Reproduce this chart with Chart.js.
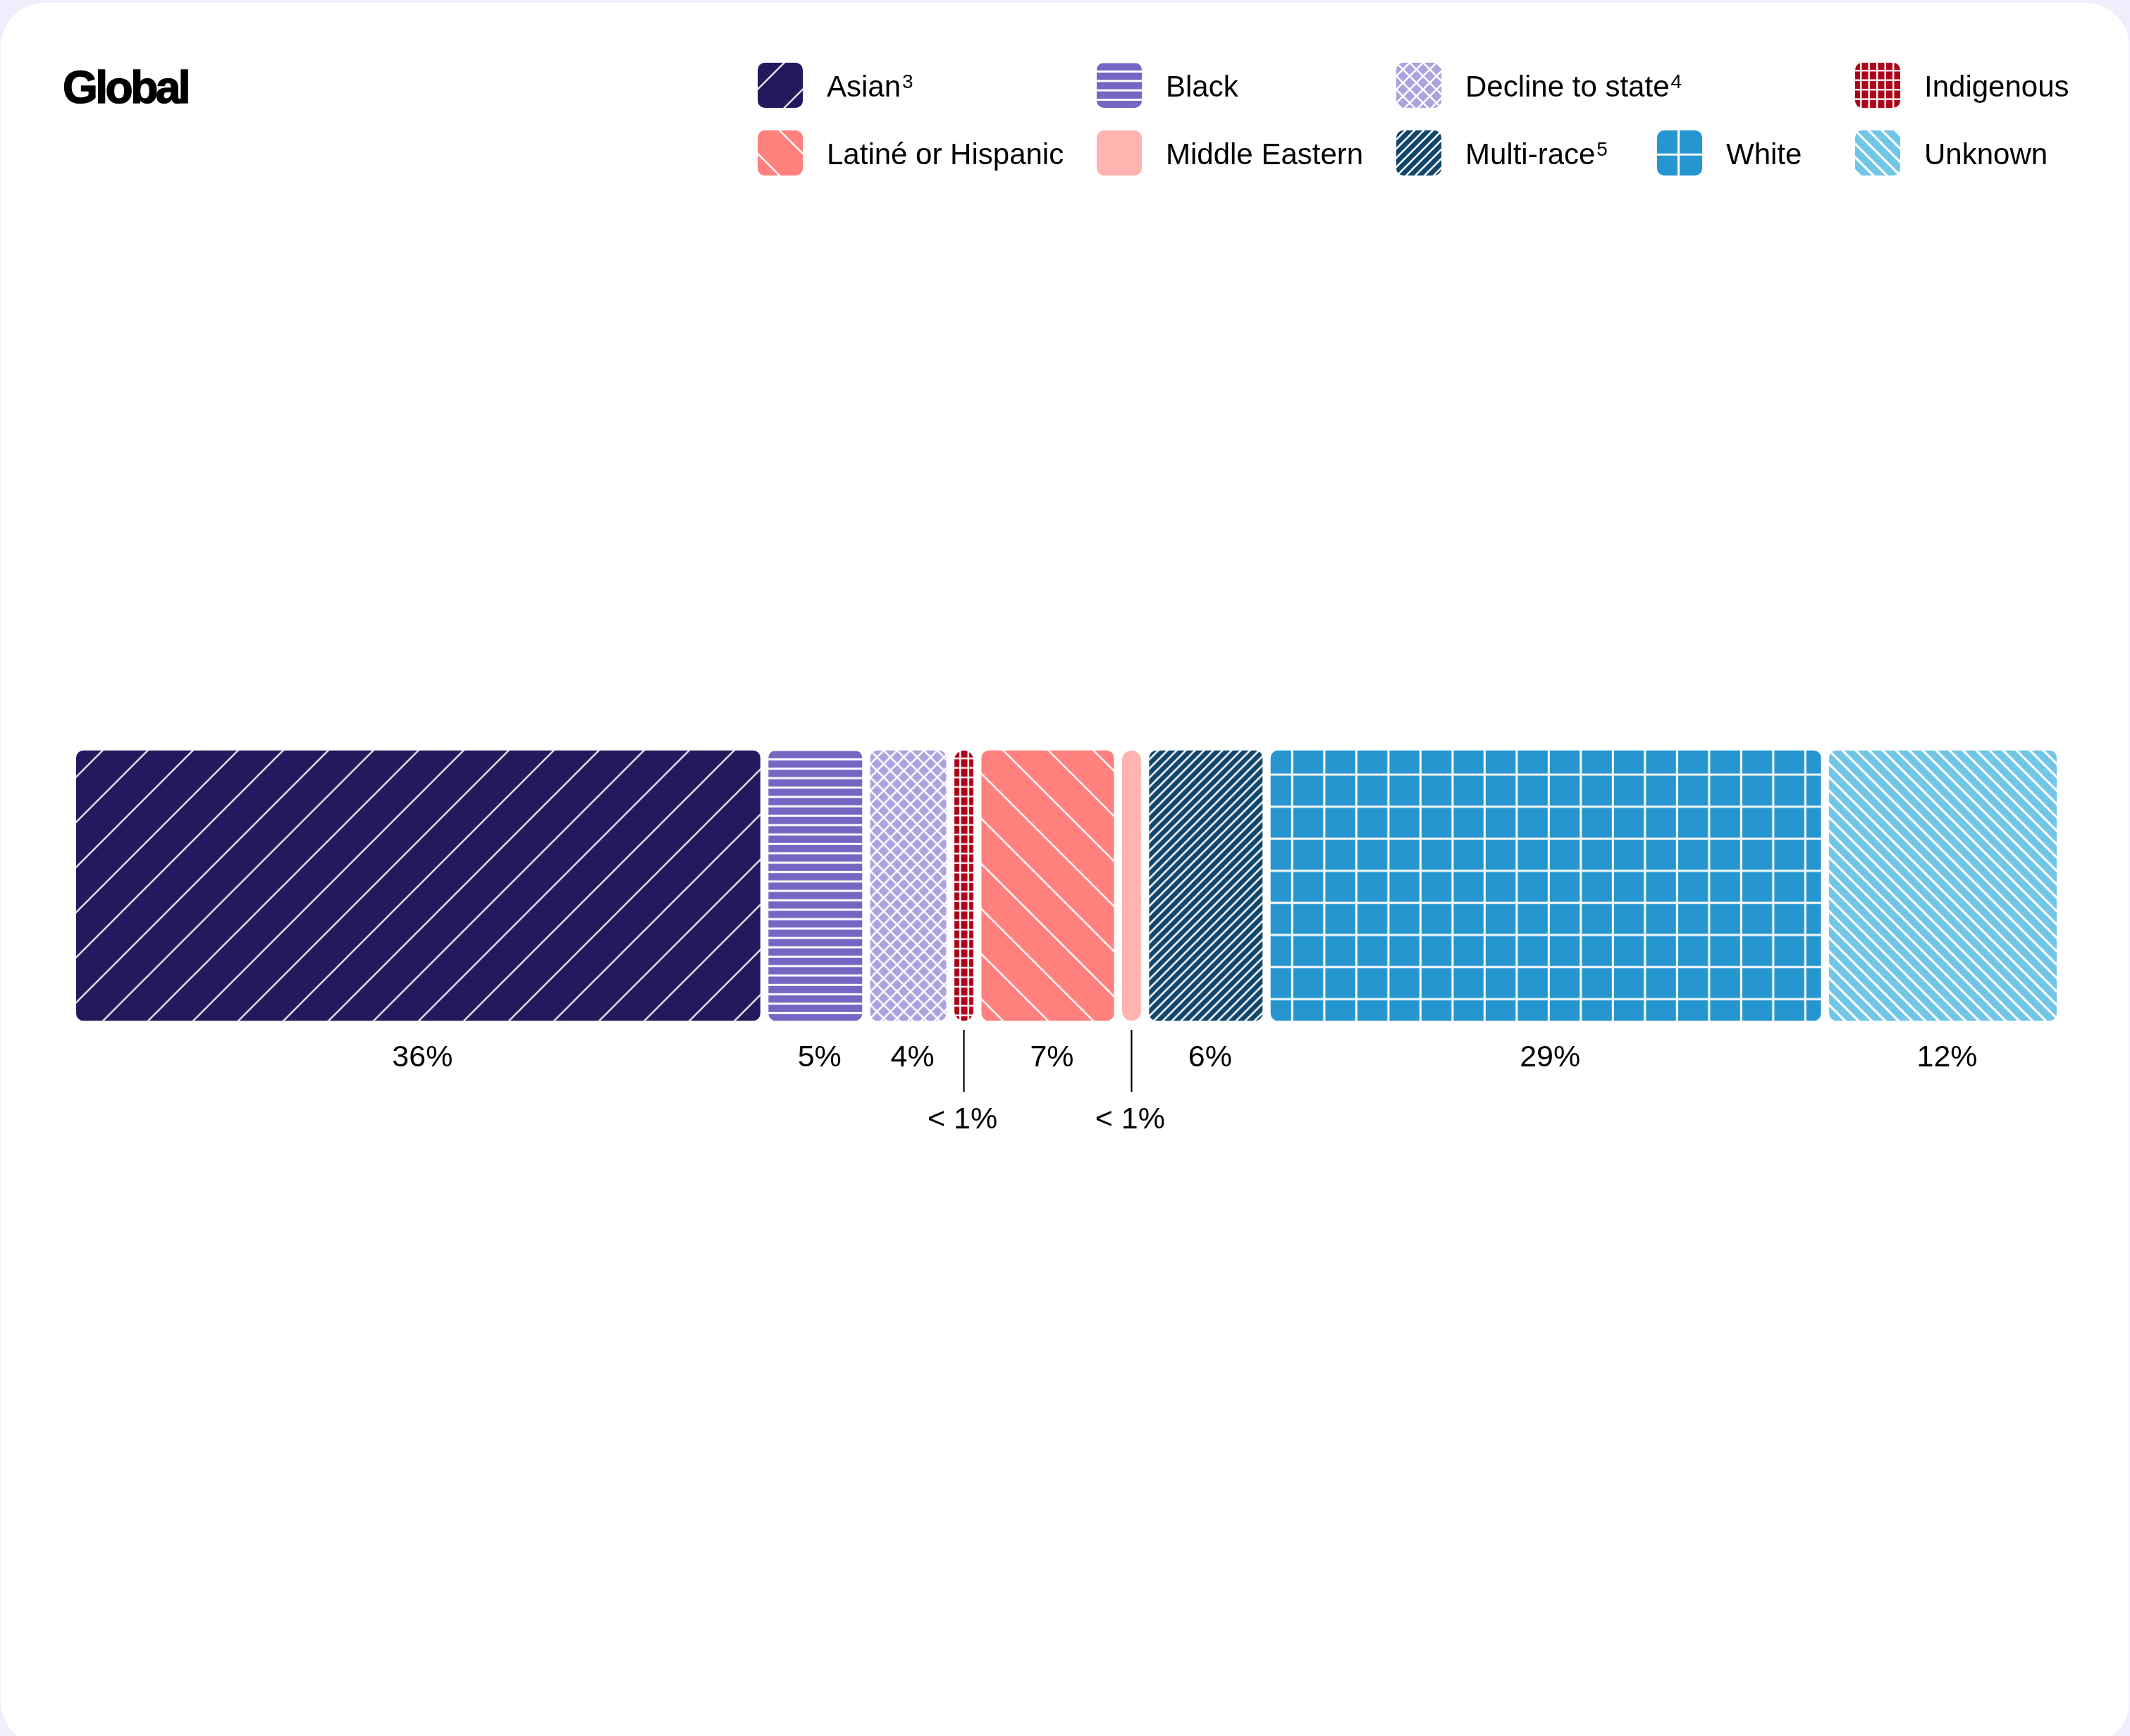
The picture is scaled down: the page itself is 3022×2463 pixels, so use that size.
<!DOCTYPE html>
<html lang="en">
<head>
  <meta charset="UTF-8">
  <title>Global</title>
  <style>
    html, body {
      margin: 0;
      padding: 0;
    }
    body {
      width: 3022px;
      height: 2463px;
      overflow: hidden;
      position: relative;
      background-color: #f0edfc;
      font-family: "Liberation Sans", Arial, sans-serif;
    }
    .card {
      position: absolute;
      left: 1px;
      top: 4px;
      width: 3020px;
      height: 2472px;
      background-color: #ffffff;
      border-radius: 62px;
    }
    .chart-container {
      position: absolute;
      left: 0;
      top: 0;
      width: 3022px;
      height: 2463px;
    }
  </style>
</head>
<body>
  <div class="card"></div>
  <div class="chart-container">
    <canvas id="shareChart"></canvas>
  </div>

  <script src="https://cdn.jsdelivr.net/npm/chart.js"></script>
  <script>
    // Data (bar widths as drawn, printed labels as shown)
    const categories = ['Global'];
    const groups = ['Asian', 'Black', 'Decline to state', 'Indigenous', 'Latiné or Hispanic',
                    'Middle Eastern', 'Multi-race', 'White', 'Unknown'];
    const footnotes = ['3', '', '4', '', '', '', '5', '', ''];
    const shares = [34.81, 5.12, 4.23, 1.36, 7.07, 1.36, 6.11, 28.08, 11.85];
    const shareLabels = ['36%', '5%', '4%', '< 1%', '7%', '< 1%', '6%', '29%', '12%'];
    const groupColors = ['#24195c', '#7566c3', '#aba2de', '#ad0019', '#ff807d',
                         '#ffb4af', '#10466b', '#2596d0', '#71c6e7'];

    // Hatch styles for each group
    const patternSpecs = [
      { kind: 'up', period: 64, reps: 1, lw: 2.2, px: 37.6, py: 0 },
      { kind: 'hlines', period: 13.33, reps: 3, lw: 3, px: 0, py: 11 },
      { kind: 'cross', period: 19, reps: 1, lw: 2.6, px: 0, py: 0 },
      { kind: 'grid', periodX: 11.5, periodY: 13.4, reps: 2, lw: 2.4, px: 7, py: 10 },
      { kind: 'down', period: 64, reps: 1, lw: 2.4, px: 31, py: 0 },
      { kind: 'solid' },
      { kind: 'up', period: 13, reps: 1, lw: 2.6, px: 0, py: 0 },
      { kind: 'grid', periodX: 45.4, periodY: 45.4, reps: 2, lw: 3, px: 29, py: 32.7 },
      { kind: 'down', period: 19, reps: 1, lw: 3.2, px: 0, py: 0 }
    ];

    const BORDER = 5.75;
    const FONT = '"Liberation Sans", Arial, sans-serif';
    const total = shares.reduce((a, b) => a + b, 0);

    function makeFill(spec, color) {
      if (spec.kind === 'solid') return color;
      const reps = spec.reps || 1;
      let w, h;
      if (spec.kind === 'hlines') {
        w = 8;
        h = Math.round(spec.period * reps);
      } else if (spec.kind === 'grid') {
        w = Math.round(spec.periodX * reps);
        h = Math.round(spec.periodY * reps);
      } else {
        w = h = Math.round(spec.period * reps);
      }
      const tile = document.createElement('canvas');
      tile.width = w;
      tile.height = h;
      const t = tile.getContext('2d');
      t.fillStyle = color;
      t.fillRect(0, 0, w, h);
      t.fillStyle = '#ffffff';
      t.strokeStyle = '#ffffff';
      t.lineWidth = spec.lw;

      if (spec.kind === 'hlines' || spec.kind === 'grid') {
        for (let k = 0; k < reps; k++) t.fillRect(0, k * h / reps, w, spec.lw);
      }
      if (spec.kind === 'grid') {
        for (let k = 0; k < reps; k++) t.fillRect(k * w / reps, 0, spec.lw, h);
      }
      const step = w / reps;
      if (spec.kind === 'up' || spec.kind === 'cross') {
        for (let k = 0; k <= 2 * reps; k++) {
          const c = k * step;
          t.beginPath();
          t.moveTo(c + 4, -4);
          t.lineTo(c - w - 4, w + 4);
          t.stroke();
        }
      }
      if (spec.kind === 'down' || spec.kind === 'cross') {
        for (let k = -reps; k <= reps; k++) {
          const c = k * step;
          t.beginPath();
          t.moveTo(c - 4, -4);
          t.lineTo(c + w + 4, w + 4);
          t.stroke();
        }
      }
      return t.createPattern(tile, 'repeat');
    }

    const fills = groupColors.map((c, i) => makeFill(patternSpecs[i], c));

    function anchorFill(i, x, y) {
      const fill = fills[i];
      if (typeof fill === 'string') return;
      const spec = patternSpecs[i];
      fill.setTransform(new DOMMatrix().translate(x + spec.px, y + spec.py));
    }

    // Line the hatching up with each segment's corner
    const patternAnchor = {
      id: 'patternAnchor',
      beforeDatasetsDraw(chart) {
        chart.data.datasets.forEach((ds, i) => {
          const el = chart.getDatasetMeta(i).data[0];
          const left = Math.min(el.x, el.base) + BORDER;
          const top = el.y - el.height / 2 + BORDER;
          anchorFill(i, left, top);
        });
      }
    };

    // Percent labels under the segments
    const segmentLabels = {
      id: 'segmentLabels',
      afterDatasetsDraw(chart) {
        const ctx = chart.ctx;
        ctx.save();
        ctx.fillStyle = '#000000';
        ctx.strokeStyle = '#000000';
        ctx.font = '43px ' + FONT;
        ctx.textAlign = 'center';
        ctx.textBaseline = 'alphabetic';
        chart.data.datasets.forEach((ds, i) => {
          const el = chart.getDatasetMeta(i).data[0];
          const cx = (el.x + el.base) / 2;
          const bottom = el.y + el.height / 2;
          const text = shareLabels[i];
          if (text.startsWith('<')) {
            ctx.lineWidth = 2.2;
            ctx.beginPath();
            ctx.moveTo(cx, bottom + 7);
            ctx.lineTo(cx, bottom + 95);
            ctx.stroke();
            ctx.fillText(text, cx - 2, bottom + 147);
          } else {
            ctx.fillText(text, cx + 6, bottom + 59);
          }
        });
        ctx.restore();
      }
    };

    // Title and two-row legend
    const legendSlots = [[1075, 89], [1556, 89], [1981, 89], [2632, 89],
                         [1075, 185], [1556, 185], [1981, 185], [2351, 185], [2632, 185]];

    const titleAndLegend = {
      id: 'titleAndLegend',
      afterDraw(chart) {
        const ctx = chart.ctx;
        ctx.save();
        ctx.fillStyle = '#000000';
        ctx.strokeStyle = '#000000';
        ctx.textAlign = 'left';
        ctx.textBaseline = 'alphabetic';
        ctx.font = 'bold 64px ' + FONT;
        ctx.letterSpacing = '-3.5px';
        ctx.lineWidth = 1.6;
        ctx.lineJoin = 'round';
        ctx.fillText(categories[0], 89, 146);
        ctx.strokeText(categories[0], 89, 146);
        ctx.letterSpacing = '0px';

        chart.data.datasets.forEach((ds, i) => {
          const [sx, sy] = legendSlots[i];
          anchorFill(i, sx, sy);
          ctx.fillStyle = fills[i];
          ctx.beginPath();
          ctx.roundRect(sx, sy, 64, 64, 10);
          ctx.fill();

          ctx.fillStyle = '#000000';
          ctx.font = '42px ' + FONT;
          const tx = sx + 98;
          const base = sy + 48;
          ctx.fillText(ds.label, tx, base);
          if (footnotes[i]) {
            const w = ctx.measureText(ds.label).width;
            ctx.font = '28px ' + FONT;
            ctx.fillText(footnotes[i], tx + w + 2, base - 12);
          }
        });
        ctx.restore();
      }
    };

    new Chart(document.getElementById('shareChart'), {
      type: 'bar',
      data: {
        labels: categories,
        datasets: groups.map((g, i) => {
          const r = shares[i] < 2 ? 20 : 16;
          return {
            label: g,
            data: [shares[i]],
            backgroundColor: fills[i],
            borderColor: '#ffffff',
            borderWidth: BORDER,
            borderSkipped: false,
            borderRadius: { topLeft: r, topRight: r, bottomLeft: r, bottomRight: r },
            barThickness: 395,
            inflateAmount: 0
          };
        })
      },
      options: {
        indexAxis: 'y',
        responsive: true,
        maintainAspectRatio: false,
        animation: false,
        events: [],
        layout: { padding: { left: 102.25, right: 98.25, top: 1000, bottom: 950 } },
        scales: {
          x: { stacked: true, display: false, min: 0, max: total },
          y: { stacked: true, display: false }
        },
        plugins: {
          legend: { display: false },
          tooltip: { enabled: false }
        }
      },
      plugins: [patternAnchor, segmentLabels, titleAndLegend]
    });
  </script>
</body>
</html>
